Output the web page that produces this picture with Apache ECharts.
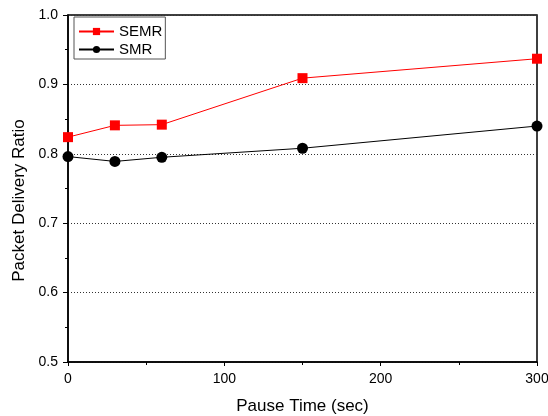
<!DOCTYPE html>
<html><head><meta charset="utf-8">
<script src="https://cdn.jsdelivr.net/npm/echarts@6/dist/echarts.min.js"></script>
<style>html,body{margin:0;padding:0;background:#fff}#c{width:548px;height:416px}</style>
</head><body><div id="c"></div>
<script>
const pauseTimes = [0, 30, 60, 150, 300];
const semr = [0.824, 0.841, 0.842, 0.909, 0.937];
const smr = [0.796, 0.789, 0.795, 0.808, 0.840];
const seriesNames = ['SEMR', 'SMR'];
const xTitle = 'Pause Time (sec)';
const yTitle = 'Packet Delivery Ratio';

const font = 'Liberation Sans, Arial, sans-serif';
const chart = echarts.init(document.getElementById('c'));
chart.setOption({
  animation: false,
  backgroundColor: '#fff',
  grid: { left: 68, top: 15, right: 11, bottom: 54, show: true, borderColor: '#000', borderWidth: 1.5,
          containLabel: false, outerBoundsMode: 'none' },
  legend: {
    left: 74, top: 17, orient: 'vertical', itemGap: 1, itemWidth: 35, itemHeight: 9,
    padding: [6, 3, 1, 4], borderColor: '#555', borderWidth: 1, borderRadius: 0,
    textStyle: { fontFamily: font, fontSize: 15, color: '#000', lineHeight: 17 },
    data: seriesNames
  },
  xAxis: {
    type: 'value', min: 0, max: 300, interval: 100,
    name: xTitle, nameLocation: 'middle', nameGap: 36,
    nameTextStyle: { fontFamily: font, fontSize: 17, color: '#000' },
    axisLine: { lineStyle: { color: '#000', width: 1.5 } },
    axisTick: { show: true, length: 4, lineStyle: { color: '#000' } },
    minorTick: { show: true, splitNumber: 2, length: 3, lineStyle: { color: '#000' } },
    axisLabel: { fontFamily: font, fontSize: 14, color: '#000', margin: 10 },
    splitLine: { show: false }
  },
  yAxis: {
    type: 'value', min: 0.5, max: 1.0, interval: 0.1,
    name: yTitle, nameLocation: 'middle', nameGap: 40, nameRotate: 90,
    nameTextStyle: { fontFamily: font, fontSize: 17, color: '#000', padding: [0, 24, 0, 0] },
    axisLine: { show: true, lineStyle: { color: '#000', width: 1.5 } },
    axisTick: { show: true, length: 5, lineStyle: { color: '#000' } },
    minorTick: { show: true, splitNumber: 2, length: 3, lineStyle: { color: '#000' } },
    axisLabel: { fontFamily: font, fontSize: 14, color: '#000', margin: 10, formatter: v => v.toFixed(1) },
    splitLine: { show: true, lineStyle: { color: '#333', type: [1, 2], width: 1 } }
  },
  series: [
    { name: seriesNames[0], type: 'line', data: pauseTimes.map((x, i) => [x, semr[i]]),
      symbol: 'rect', symbolSize: 10, clip: false,
      lineStyle: { color: '#ff0000', width: 1 }, itemStyle: { color: '#ff0000' } },
    { name: seriesNames[1], type: 'line', data: pauseTimes.map((x, i) => [x, smr[i]]),
      symbol: 'circle', symbolSize: 11, clip: false,
      lineStyle: { color: '#000', width: 1 }, itemStyle: { color: '#000' } }
  ]
});
</script></body></html>
